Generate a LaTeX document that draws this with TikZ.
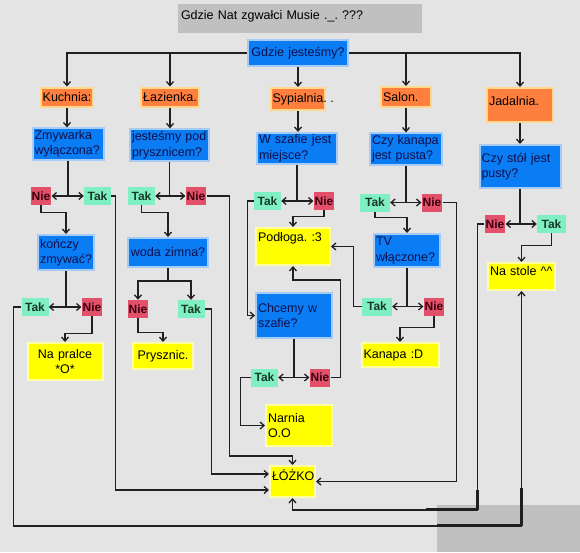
\documentclass[tikz,border=0pt]{standalone}
\usepackage{fontspec}
\setmainfont{Liberation Sans}
\usepackage{xcolor}
\usetikzlibrary{arrows.meta, calc}
\frenchspacing

\definecolor{bgGray}{HTML}{E4E4E4}
\definecolor{titleGray}{HTML}{C0C0C0}
\definecolor{askBlue}{HTML}{0A7CF4}
\definecolor{askHalo}{HTML}{A6CBF5}
\definecolor{askText}{HTML}{10104A}
\definecolor{roomOrange}{HTML}{FF7F3F}
\definecolor{roomHalo}{HTML}{FFD88A}
\definecolor{endYellow}{HTML}{FFFF00}
\definecolor{endHalo}{HTML}{FFFFA0}
\definecolor{yesGreen}{HTML}{80F0C4}
\definecolor{yesText}{HTML}{163A22}
\definecolor{noRed}{HTML}{E2506A}
\definecolor{noText}{HTML}{3A0010}
\definecolor{lineDark}{HTML}{202020}

\begin{document}
\begin{tikzpicture}[x=1pt, y=-1pt, font=\fontsize{12.5}{15.5}\selectfont,
		ln/.style={draw=lineDark, line width=1.3pt},
		arr/.style={ln, -{Straight Barb[length=4pt, width=7pt]}},
		both/.style={ln, {Straight Barb[length=4pt, width=7pt]}-{Straight Barb[length=4pt, width=7pt]}},
		titlebox/.style={fill=titleGray, text width=238pt, align=left, inner xsep=3pt, inner ysep=3pt, text height=12pt, text depth=11pt},
		ask/.style={fill=askBlue, draw=askHalo, line width=2pt, text=askText, align=left, inner sep=2pt},
		room/.style={fill=roomOrange, draw=roomHalo, line width=2pt, inner sep=2pt, minimum height=19pt},
		goal/.style={fill=endYellow, draw=endHalo, line width=2pt, align=left, inner sep=2pt},
		yes/.style={fill=yesGreen, text=yesText, font=\fontsize{12}{14}\selectfont\bfseries, minimum width=27pt, minimum height=18pt, inner sep=1pt},
		no/.style={fill=noRed, text=noText, font=\fontsize{12}{14}\selectfont\bfseries, minimum width=19pt, minimum height=18pt, inner sep=1pt}]
			\useasboundingbox (0,0) rectangle (580,552);
			\fill[bgGray] (0,0) rectangle (580,552);
			\fill[titleGray] (437,505) rectangle (580,552);

			\node[titlebox] (title) at (300,18.5) {Gdzie Nat zgwałci Musie .\_. ???};
			\node[ask, text width=96pt, align=center, minimum height=26pt] (where) at (298,53) {Gdzie jesteśmy?};

			\node[room] (kuch) at (67,97) {Kuchnia:};
			\node[room] (lazi) at (170,97) {Łazienka.};
			\node[room, minimum height=22pt] (sypi) at (298,99) {Sypialnia\rlap{. .}};
			\node[room, text width=46pt, minimum height=20pt] (salon) at (406,97) {Salon.};
			\node[room, text width=62pt, text height=15pt, text depth=15pt] (jadal) at (520,105) {Jadalnia.};

			\node[ask, text width=67pt] (q1) at (68,144) {Zmywarka\\wyłączona?};
			\node[ask, text width=75pt] (q2) at (169.5,145) {jesteśmy pod\\prysznicem?};
			\node[ask, text width=76pt] (q3) at (297,148.5) {W szafie jest\\miejsce?};
			\node[ask, text width=68pt] (q4) at (406,149) {Czy kanapa\\jest pusta?};
			\node[ask, text width=77pt, minimum height=43pt] (q5) at (520,166.5) {Czy stół jest\\pusty?};
			\node[ask, text width=52pt, minimum height=35pt] (q6) at (66,252.5) {kończy\\zmywać?};
			\node[ask, text width=76pt, align=center, minimum height=29pt] (q7) at (168,252.5) {woda zimna?};
			\node[ask, text width=72pt, minimum height=45pt] (q8) at (294,315.5) {Chcemy w\\szafie?};
			\node[ask, text width=62pt, minimum height=33pt] (q9) at (407,250.5) {TV\\włączone?};

			\node[no] (n1) at (41,196) {Nie};
			\node[yes] (t1) at (97.5,196) {Tak};
			\node[yes] (t2) at (141.5,196) {Tak};
			\node[no] (n2) at (196,196) {Nie};
			\node[yes] (t3) at (267.5,201) {Tak};
			\node[no] (n3) at (324,201) {Nie};
			\node[yes, minimum width=30pt] (t4) at (375,202.5) {Tak};
			\node[no] (n4) at (432,202.5) {Nie};
			\node[no] (n5) at (495,224) {Nie};
			\node[yes, minimum width=29pt] (t5) at (551.5,224) {Tak};
			\node[yes] (t6) at (35,307) {Tak};
			\node[no] (n6) at (92,307) {Nie};
			\node[no] (n7) at (138,309) {Nie};
			\node[yes] (t7) at (191,309) {Tak};
			\node[yes] (t8) at (264.5,377.5) {Tak};
			\node[no] (n8) at (320,377.5) {Nie};
			\node[yes, minimum width=30pt] (t9) at (377,306.5) {Tak};
			\node[no] (n9) at (434,306.5) {Nie};

			\node[goal, text width=71pt, align=center, minimum height=37pt] (e1) at (65,361.5) {Na pralce\\\relax*O*};
			\node[goal, text width=56pt, align=center, minimum height=26pt] (e2) at (163,356) {Prysznic.};
			\node[goal, text width=70pt, text height=11pt, text depth=22pt] (e3) at (293,246.5) {Podłoga. :3};
			\node[goal, text width=62pt, minimum height=41pt] (e4) at (299,425.5) {Narnia\\O.O};
			\node[goal, text width=73pt, minimum height=24pt] (e5) at (400,355) {Kanapa :D};
			\node[goal, text width=63pt, text height=10pt, text depth=13pt] (e6) at (521.5,276.5) {Na stole \textasciicircum\textasciicircum};
			\node[goal, text width=41pt, text height=12pt, text depth=15pt] (bed) at (292.5,481.5) {ŁÓŻKO};

			\draw[arr] (where.west) -| (kuch.north);
			\draw[arr] (where.west) -| (lazi.north);
			\draw[arr] (where.south) -- (sypi.north);
			\draw[arr] (where.east) -| (salon.north);
			\draw[arr] (where.east) -| (jadal.north);
			\draw[arr] (kuch.south) -- (kuch.south |- q1.north);
			\draw[arr] (lazi.south) -- (lazi.south |- q2.north);
			\draw[arr] (sypi.south) -- (sypi.south |- q3.north);
			\draw[arr] (salon.south) -- (salon.south |- q4.north);
			\draw[arr] (jadal.south) -- (jadal.south |- q5.north);

			\draw[ln] (q1.south) -- (q1.south |- t1.west);
			\draw[both] (n1.east) -- (t1.west);
			\draw[arr] (n1.south) -- ++(0,7) -| (q6.north);
			\draw[arr] (t1.east) -- ++(4,0) |- ($(bed.west)+(0,8.5)$);
			\draw[ln] (q6.south) -- (q6.south |- t6.east);
			\draw[both] (t6.east) -- (n6.west);
			\draw[arr] (n6.south) -- ++(0,17) -| (e1.north);
			\draw[arr] (t6.west) -- ++(-8,0) |- ($(e6.south)+(0,235)$) -- (e6.south);

			\draw[ln] (q2.south) -- (q2.south |- t2.east);
			\draw[both] (t2.east) -- (n2.west);
			\draw[arr] (t2.south) -- ++(0,7) -| (q7.north);
			\draw[arr] (n2.east) -- ++(23,0) |- ($(bed.north)+(0,-9)$) -- (bed.north);
			\draw[arr] (q7.south) -- ++(0,13) -| (n7.north);
			\draw[arr] (q7.south) -- ++(0,13) -| (t7.north);
			\draw[arr] (n7.south) -- ++(0,14) -| (e2.north);
			\draw[arr] (t7.east) -- ++(7,0) |- ($(bed.west)+(0,-7.5)$);

			\draw[ln] (q3.south) -- (q3.south |- t3.east);
			\draw[both] (t3.east) -- (n3.west);
			\draw[arr] (n3.south) -- ++(0,6) -| (e3.north);
			\draw[arr] (t3.west) -- ++(-6,0) |- (q8.west);
			\draw[ln] (q8.south) -- (q8.south |- t8.east);
			\draw[both] (t8.east) -- (n8.west);
			\draw[arr] (n8.east) -- ++(10,0) |- ($(e3.south)+(0,14)$) -- (e3.south);
			\draw[arr] (t8.west) -- ++(-10,0) |- (e4.west);

			\draw[ln] (q4.south) -- (q4.south |- t4.east);
			\draw[both] (t4.east) -- (n4.west);
			\draw[arr] (t4.south) -- ++(0,6) -| (q9.north);
			\draw[arr] (n4.east) -- ++(14,0) |- (bed.east);
			\draw[ln] (q9.south) -- (q9.south |- t9.east);
			\draw[both] (t9.east) -- (n9.west);
			\draw[arr] (t9.west) -- ++(-8,0) |- (e3.east);
			\draw[arr] (n9.south) -- ++(0,12) -| (e5.north);

			\draw[ln] (q5.south) -- (q5.south |- t5.west);
			\draw[both] (n5.east) -- (t5.west);
			\draw[arr] (t5.south) -- ++(0,12) -| (e6.north);
			\draw[arr] (n5.west) -- ++(-7,0) |- ($(bed.south)+(0,12)$) -- (bed.south);

			\draw[ln, line width=2.8pt] ($(e6.south)+(0,197)$) |- ($(e6.south)+(-85,234)$);
			\draw[ln, line width=2.8pt] ($(n5.west)+(-7,266)$) |- ($(n5.west)+(-58,285)$);
		\end{tikzpicture}
\end{document}
